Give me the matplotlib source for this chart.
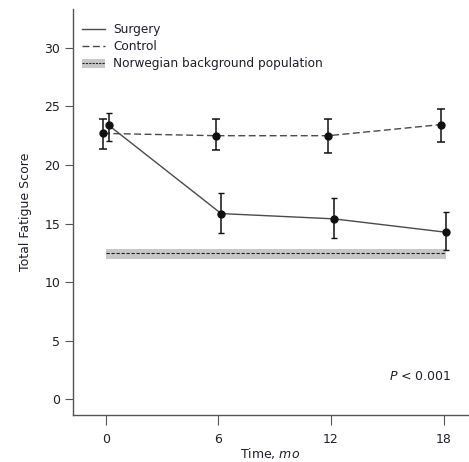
import matplotlib.pyplot as plt
import numpy as np

months = [0, 6, 12, 18]

surgery_mean = [23.4, 15.85, 15.4, 14.25]
surgery_low = [22.05, 14.2, 13.75, 12.7]
surgery_high = [24.45, 17.6, 17.15, 15.95]

control_mean = [22.7, 22.5, 22.5, 23.45]
control_low = [21.35, 21.3, 21.05, 22.0]
control_high = [23.95, 23.9, 23.95, 24.8]

norway_mean = 12.45
norway_low = 12.0
norway_high = 12.85
norway_span = [0, 18.1]

text_color = '#1e1e28'
line_color = '#4a4a4a'

fig = plt.figure(figsize=(4.69, 4.62), dpi=100)
ax = fig.add_axes([0.155, 0.102, 0.843, 0.878])

# background population band
ax.fill_between(norway_span, norway_low, norway_high, color='#c8c8c8', linewidth=0, zorder=1)
ax.plot(norway_span, [norway_mean, norway_mean], color='#222222', linestyle=(0, (3, 1.5)),
        linewidth=0.8, zorder=2)

x_surg = np.array(months) + 0.15
x_ctrl = np.array(months) - 0.15

s_err = [np.array(surgery_mean) - np.array(surgery_low), np.array(surgery_high) - np.array(surgery_mean)]
c_err = [np.array(control_mean) - np.array(control_low), np.array(control_high) - np.array(control_mean)]

ax.plot(x_ctrl, control_mean, color=line_color, linestyle=(0, (5, 2.5)), linewidth=1.0, zorder=3)
ax.errorbar(x_ctrl, control_mean, yerr=c_err, fmt='o', color='#111111', markersize=5,
            elinewidth=1.1, capsize=3, capthick=1.1, zorder=4)
ax.plot(x_surg, surgery_mean, color=line_color, linestyle='-', linewidth=1.0, zorder=3)
ax.errorbar(x_surg, surgery_mean, yerr=s_err, fmt='o', color='#111111', markersize=5,
            elinewidth=1.1, capsize=2.2, capthick=1.0, zorder=4)

ax.set_xlim(-1.76, 19.3)
ax.set_ylim(-1.34, 33.3)
ax.set_xticks(months)
ax.set_yticks([0, 5, 10, 15, 20, 25, 30])

for side in ['top', 'right']:
    ax.spines[side].set_visible(False)
for side in ['left', 'bottom']:
    ax.spines[side].set_color('#555555')
    ax.spines[side].set_linewidth(1.0)

ax.tick_params(axis='both', colors='#555555', labelcolor=text_color, labelsize=9, length=6)
ax.tick_params(axis='x', length=7, pad=6)
ax.tick_params(axis='y', pad=3)

ax.set_ylabel('Total Fatigue Score', fontsize=9, color=text_color, labelpad=9)
ax.set_xlabel('Time, $\\it{mo}$', fontsize=9, color=text_color, labelpad=0)

# legend drawn by hand in axes fraction
leg_items = [('Surgery', '-'), ('Control', (0, (5, 2.5))), ('Norwegian background population', None)]
ty = [0.951, 0.909, 0.867]
for (label, ls), yy in zip(leg_items, ty):
    if ls is None:
        ax.fill_between([0.024, 0.082], yy - 0.011, yy + 0.011, color='#c8c8c8', linewidth=0,
                        transform=ax.transAxes)
        ax.plot([0.024, 0.082], [yy, yy], color='#222222', linestyle=(0, (2, 1)), linewidth=0.8,
                transform=ax.transAxes)
    else:
        ax.plot([0.024, 0.082], [yy, yy], color=line_color, linestyle=ls, linewidth=1.0,
                transform=ax.transAxes)
    ax.text(0.102, yy, label, transform=ax.transAxes, fontsize=8.7, color=text_color, va='center')

ax.text(18.4, 1.9, '$\\it{P}$ < 0.001', fontsize=9, color=text_color, ha='right', va='center')

fig.savefig('out.png', dpi=100)
